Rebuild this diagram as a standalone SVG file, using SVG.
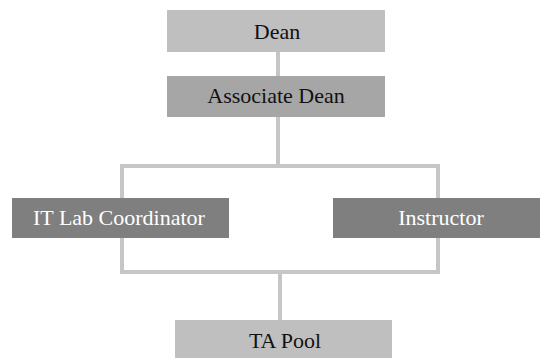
<svg xmlns="http://www.w3.org/2000/svg" width="540" height="358" viewBox="0 0 540 358">
<style>
.ln{fill:none;stroke:#c6c6c6;stroke-width:4;stroke-linejoin:miter;stroke-linecap:square}
.t{font-size:22px;text-anchor:middle}
.dk{fill:#111}
.wt{fill:#fff}
</style>
<rect width="540" height="358" fill="#fff"/>
<g id="connectors">
<path class="ln" d="M278 52V76"/>
<path class="ln" d="M278 117V166"/>
<path class="ln" d="M122 198V166H438V198"/>
<path class="ln" d="M122 238V272H438V238"/>
<path class="ln" d="M280 272V320"/>
</g>
<g font-family="'Liberation Serif', 'DejaVu Serif', serif">
<g id="dean">
<rect x="167" y="10" width="218" height="42" fill="#bfbfbf"/>
<text class="t dk" x="277" y="39">Dean</text>
</g>
<g id="associate-dean">
<rect x="167" y="76" width="218" height="41" fill="#a6a6a6"/>
<text class="t dk" x="276" y="103">Associate Dean</text>
</g>
<g id="it-lab-coordinator">
<rect x="12" y="198" width="217" height="40" fill="#7f7f7f"/>
<text class="t wt" x="119" y="225">IT Lab Coordinator</text>
</g>
<g id="instructor">
<rect x="333" y="198" width="207" height="40" fill="#7f7f7f"/>
<text class="t wt" x="441" y="225">Instructor</text>
</g>
<g id="ta-pool">
<rect x="175" y="320" width="217" height="41" fill="#bfbfbf"/>
<text class="t dk" x="285" y="348">TA Pool</text>
</g>
</g>
</svg>
